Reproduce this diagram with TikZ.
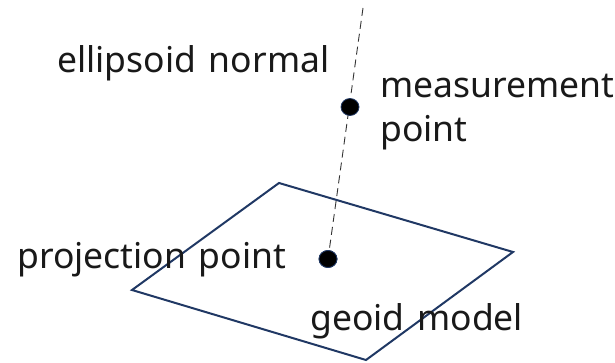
\documentclass[tikz,border=0pt]{standalone}
\usepackage{fontspec}
\setmainfont{Noto Sans}[WordSpace=1.4]
\begin{document}
\begin{tikzpicture}[x=1pt,y=-1pt,
  lbl/.style={anchor=base west,inner sep=0pt,font=\fontsize{35.5}{44}\selectfont,text=black!90},
  dotnode/.style={ellipse,minimum width=18pt,minimum height=17pt,inner sep=0pt,fill=black,draw=navy,line width=0.8pt},
  plane/.style={draw=navy,line width=2pt,line join=miter},
  normalline/.style={draw=black!80,line width=0.9pt,dash pattern=on 8pt off 5pt}]
\usetikzlibrary{shapes.geometric}
\definecolor{navy}{HTML}{203864}
\useasboundingbox (0,0) rectangle (615,363);
\coordinate (tp) at (279,183);
\coordinate (rt) at (513,252);
\coordinate (bt) at (366,360);
\coordinate (lf) at (132,290);
\coordinate (ntop) at (363,8);
\draw[plane] (tp) -- (rt) -- (bt) -- (lf) -- cycle;
\node[lbl] (pl) at (17,268) {projection point};
\node[lbl] (gm) at (310,330) {geoid model};
\node[lbl] (en) at (57,73) {ellipsoid normal};
\node[lbl] (ml) at (380,98) {measurement};
\node[lbl] (ml2) at (380,142) {point};
\node[dotnode] (pp) at (328,259) {};
\draw[normalline] (ntop) -- (pp.center);
\node[dotnode] (mp) at (350,107) {};
\node[dotnode] at (pp) {};
\end{tikzpicture}
\end{document}
